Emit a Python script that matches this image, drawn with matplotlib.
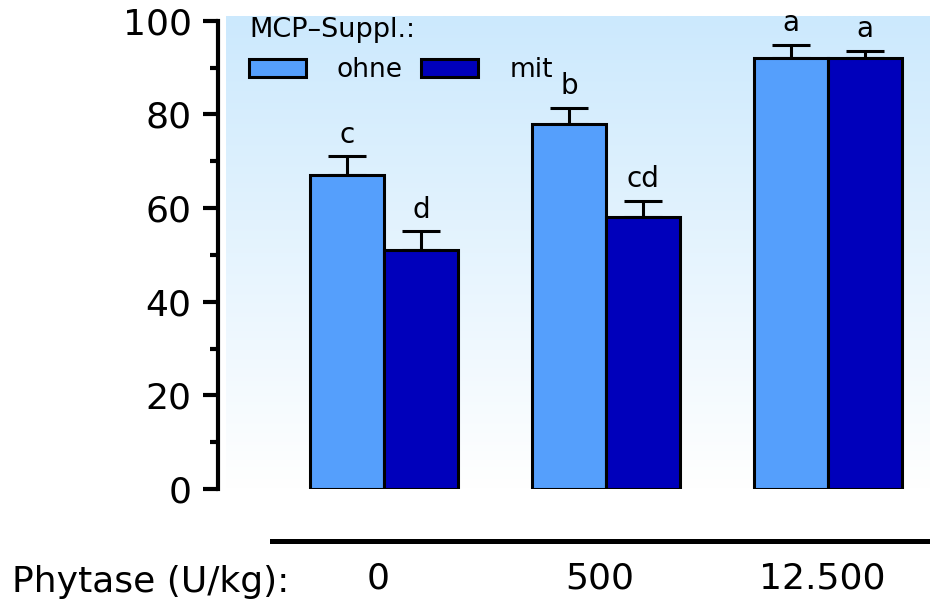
import numpy as np
import matplotlib.pyplot as plt
import matplotlib.transforms as mtransforms
from matplotlib.colors import LinearSegmentedColormap

phytase = ["0", "500", "12.500"]
ohne = [67, 78, 92]
ohne_err = [4, 3.4, 2.8]
mit = [51, 58, 92]
mit_err = [4, 3.5, 1.6]
letters_ohne = ["c", "b", "a"]
letters_mit = ["d", "cd", "a"]

plt.rcParams['font.family'] = 'DejaVu Sans'

fig = plt.figure(figsize=(9.30, 6.01), dpi=100)
ax = fig.add_axes([226/930, 1-489/601, 1-226/930, (489-16)/601])

# light blue to white background
cmap = LinearSegmentedColormap.from_list("bg", ["#ffffff", "#cce9fd"])
grad = np.linspace(0, 1, 256).reshape(-1, 1)
ax.imshow(grad, cmap=cmap, extent=[0, 1, 0, 1], transform=ax.transAxes,
          aspect='auto', origin='lower', zorder=0)

x = np.arange(len(phytase))
w = 1/3
b1 = ax.bar(x - w/2, ohne, w, color="#559ffc", edgecolor="black", linewidth=2.2,
            zorder=3, label="ohne")
b2 = ax.bar(x + w/2, mit, w, color="#0000bb", edgecolor="black", linewidth=2.2,
            zorder=3, label="mit")
ax.errorbar(x - w/2, ohne, yerr=[np.zeros(3), ohne_err], fmt='none', ecolor='black',
            elinewidth=2.2, capsize=13.5, capthick=2.2, zorder=2)
ax.errorbar(x + w/2, mit, yerr=[np.zeros(3), mit_err], fmt='none', ecolor='black',
            elinewidth=2.2, capsize=13.5, capthick=2.2, zorder=2)

for xi, v, e, t in zip(x - w/2, ohne, ohne_err, letters_ohne):
    ax.annotate(t, (xi, v + e), xytext=(0, 10), textcoords='offset points',
                ha='center', va='baseline', fontsize=20)
for xi, v, e, t in zip(x + w/2, mit, mit_err, letters_mit):
    ax.annotate(t, (xi, v + e), xytext=(0, 10), textcoords='offset points',
                ha='center', va='baseline', fontsize=20)

ax.set_xlim(-0.712, 2.459)
ax.set_ylim(0, 101)

for s in ['top', 'right']:
    ax.spines[s].set_visible(False)
ax.spines['left'].set_position(('outward', 5.8))
ax.spines['left'].set_bounds(0, 100)
ax.spines['left'].set_linewidth(3)
ax.spines['bottom'].set_position(('outward', 37.4))
ax.spines['bottom'].set_bounds(-0.505, 2.459)
ax.spines['bottom'].set_linewidth(3.6)

ax.set_yticks(np.arange(0, 101, 20))
ax.set_yticks(np.arange(10, 100, 20), minor=True)
ax.tick_params(axis='y', which='major', length=11, width=3, labelsize=26, pad=8)
ax.tick_params(axis='y', which='minor', length=6, width=3)
ax.set_xticks(x)
ax.set_xticklabels(phytase)
ax.tick_params(axis='x', length=0, labelsize=26, pad=15)
shift = mtransforms.ScaledTranslation(-0.06, 0, fig.dpi_scale_trans)
for lbl in ax.get_xticklabels():
    lbl.set_transform(lbl.get_transform() + shift)

fig.text(12/930, 1-592/601, "Phytase (U/kg):", fontsize=26, ha='left', va='baseline')

leg = ax.legend(handles=[b1, b2], labels=["ohne", "mit"], ncol=2, title="MCP–Suppl.:",
                title_fontsize=19.5, fontsize=19, frameon=False, loc='upper left',
                bbox_to_anchor=(249/930, 1-17/601), bbox_transform=fig.transFigure,
                borderpad=0, borderaxespad=0, handlelength=2.16, handleheight=0.68,
                handletextpad=1.17, columnspacing=0.7, alignment='left',
                labelspacing=0.6)
leg._legend_box.sep = 10

fig.savefig("out.png", dpi=100)
